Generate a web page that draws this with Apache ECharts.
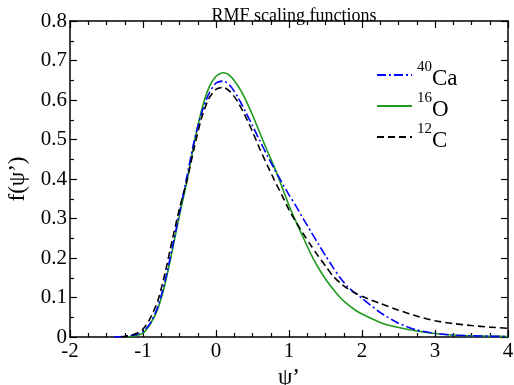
<!DOCTYPE html>
<html>
<head>
<meta charset="utf-8">
<script src="https://cdn.jsdelivr.net/npm/echarts@6/dist/echarts.min.js"></script>
<style>html,body{margin:0;padding:0;background:#fff;}#c{width:514px;height:385px;}</style>
</head>
<body>
<div id="c"></div>
<script>
// psi' grid
var psi = [-1.4,-1.3,-1.2,-1.1,-1.0,-0.9,-0.8,-0.7,-0.6,-0.5,-0.4,-0.3,-0.2,-0.1,0,0.1,0.2,0.3,0.4,0.5,0.6,0.7,0.8,0.9,1.0,1.1,1.2,1.3,1.4,1.5,1.6,1.7,1.8,1.9,2.0,2.25,2.5,2.75,3.0,3.25,3.5,3.75,4.0];
var fCa = [0,0.001,0.003,0.006,0.014,0.035,0.075,0.14,0.225,0.315,0.405,0.495,0.565,0.615,0.643,0.648,0.635,0.607,0.572,0.535,0.497,0.46,0.425,0.392,0.36,0.33,0.298,0.267,0.236,0.206,0.177,0.15,0.128,0.112,0.098,0.062,0.035,0.018,0.009,0.005,0.003,0.002,0.001];
var fO  = [null,null,0,0.003,0.01,0.033,0.07,0.133,0.218,0.308,0.392,0.49,0.572,0.63,0.66,0.669,0.66,0.636,0.603,0.562,0.517,0.472,0.43,0.382,0.333,0.29,0.25,0.21,0.176,0.147,0.122,0.1,0.083,0.069,0.058,0.037,0.024,0.015,0.009,0.005,0.003,0.002,0.001];
var fC  = [null,0,0.003,0.008,0.02,0.048,0.09,0.16,0.245,0.325,0.395,0.478,0.553,0.603,0.627,0.632,0.62,0.595,0.56,0.52,0.476,0.436,0.397,0.36,0.322,0.29,0.26,0.232,0.205,0.18,0.155,0.137,0.123,0.112,0.103,0.085,0.068,0.053,0.041,0.034,0.029,0.025,0.022];
var names = ['40Ca','16O','12C'];
var xTicks = [-2,-1,0,1,2,3,4];
var yTicks = [0,0.1,0.2,0.3,0.4,0.5,0.6,0.7,0.8];

function pairs(ys){var out=[];for(var i=0;i<psi.length;i++){if(ys[i]!==null)out.push([psi[i],ys[i]]);}return out;}
var serif = '"Liberation Serif","DejaVu Serif",serif';
var axisCommon = {
  axisLine:{show:true,onZero:false,lineStyle:{color:'#000',width:1.5}},
  axisTick:{show:true,inside:true,length:7,lineStyle:{color:'#000',width:1.2}},
  splitLine:{show:false}
};
function ax(o){return Object.assign({},JSON.parse(JSON.stringify(axisCommon)),o);}
var chart = echarts.init(document.getElementById('c'),null,{renderer:'canvas'});
chart.setOption({
  animation:false,
  backgroundColor:'#fff',
  title:{text:'RMF scaling functions',left:289,textAlign:'center',top:2,textStyle:{fontFamily:serif,fontWeight:'normal',fontSize:18,color:'#000'}},
  grid:{left:70,right:6,top:21,bottom:48,containLabel:false,outerBoundsMode:'none'},
  legend:{
    orient:'vertical',left:371,top:55,itemWidth:35,itemHeight:14,itemGap:1,
    data:names,
    itemStyle:{opacity:0},
    formatter:function(n){var m=n.match(/^(\d+)(\D+)$/);return '{h| }{sup|'+m[1]+'}{el|'+m[2]+'}';},
    textStyle:{color:'#000',fontFamily:serif,rich:{
      h:{fontSize:1,lineHeight:30,width:0},
      sup:{fontSize:15,fontFamily:serif,color:'#000',verticalAlign:'top',lineHeight:21},
      el:{fontSize:23,fontFamily:serif,color:'#000',verticalAlign:'bottom',lineHeight:26}
    }}
  },
  xAxis:[
    ax({type:'value',min:-2,max:4,interval:1,position:'bottom',minorTick:{show:true,splitNumber:4,length:4,lineStyle:{color:'#000',width:1.2}},
      axisLabel:{color:'#000',fontFamily:serif,fontSize:21,margin:4,formatter:function(v){return xTicks.indexOf(v)>=0?String(v):'';}},
      name:'ψ’',nameLocation:'middle',nameGap:24,nameTextStyle:{fontFamily:serif,fontSize:23,color:'#000'}}),
    ax({type:'value',min:-2,max:4,interval:1,position:'top',minorTick:{show:true,splitNumber:4,length:4,lineStyle:{color:'#000',width:1.2}},axisLabel:{show:false}})
  ],
  yAxis:[
    ax({type:'value',min:0,max:0.8,interval:0.1,position:'left',minorTick:{show:true,splitNumber:2,length:4,lineStyle:{color:'#000',width:1.2}},
      axisLabel:{color:'#000',fontFamily:serif,fontSize:21,margin:3,formatter:function(v){var r=Math.round(v*10)/10;return r===0?'0':r.toFixed(1);}},
      name:'f(ψ’)',nameLocation:'middle',nameRotate:90,nameGap:41,nameTextStyle:{fontFamily:serif,fontSize:23,color:'#000'}}),
    ax({type:'value',min:0,max:0.8,interval:0.1,position:'right',minorTick:{show:true,splitNumber:2,length:4,lineStyle:{color:'#000',width:1.2}},axisLabel:{show:false}})
  ],
  series:[
    {name:names[0],type:'line',smooth:0.25,symbol:'none',data:pairs(fCa),z:3,
     lineStyle:{color:'#0000ff',width:1.6,type:[9,3,2,3]},itemStyle:{color:'#0000ff'}},
    {name:names[1],type:'line',smooth:0.25,symbol:'none',data:pairs(fO),z:2,
     lineStyle:{color:'#1e9a1e',width:1.6,type:'solid'},itemStyle:{color:'#1e9a1e'}},
    {name:names[2],type:'line',smooth:0.25,symbol:'none',data:pairs(fC),z:4,
     lineStyle:{color:'#000',width:1.6,type:[7,4]},itemStyle:{color:'#000'}}
  ]
});
</script>
</body>
</html>
